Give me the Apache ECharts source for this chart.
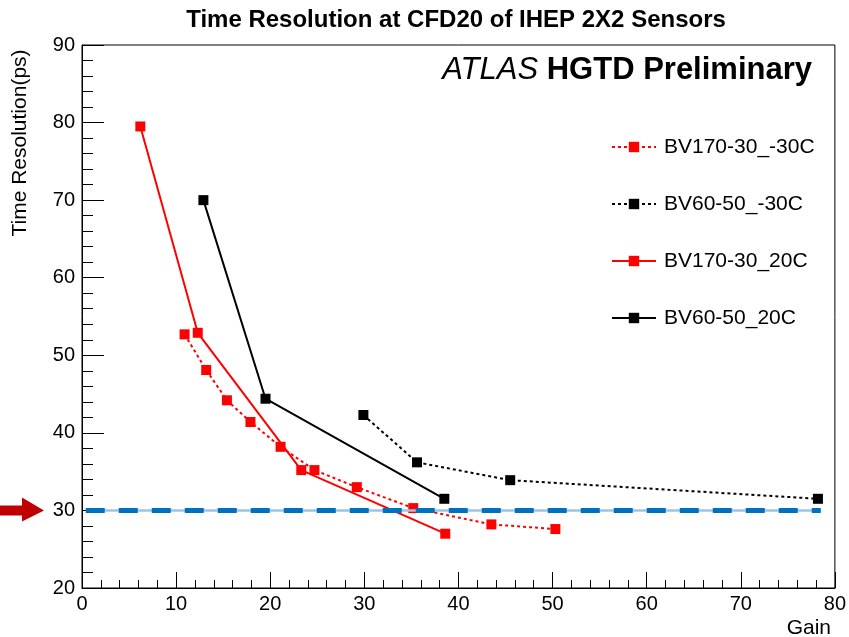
<!DOCTYPE html>
<html>
<head>
<meta charset="utf-8">
<script src="https://cdn.jsdelivr.net/npm/echarts@6/dist/echarts.min.js"></script>
<style>
  html, body { margin: 0; padding: 0; background: #fff; }
  #chart { width: 849px; height: 637px; }
</style>
</head>
<body>
<div id="chart"></div>
<script>
const FONT = '"Liberation Sans", Arial, Helvetica, sans-serif';

// series names
const seriesNames = ['BV170-30_-30C', 'BV60-50_-30C', 'BV170-30_20C', 'BV60-50_20C'];

// BV170-30 at -30C
const gainBV170Cold = [10.9, 13.2, 15.4, 17.9, 21.1, 24.7, 29.2, 35.2, 43.5, 50.3];
const resBV170Cold = [52.7, 48.1, 44.2, 41.4, 38.2, 35.2, 33.0, 30.3, 28.2, 27.6];

// BV60-50 at -30C
const gainBV60Cold = [29.9, 35.6, 45.5, 78.2];
const resBV60Cold = [42.3, 36.2, 33.9, 31.5];

// BV170-30 at 20C
const gainBV170Warm = [6.2, 12.3, 23.3, 38.6];
const resBV170Warm = [79.5, 52.9, 35.2, 27.0];

// BV60-50 at 20C
const gainBV60Warm = [12.9, 19.5, 38.5];
const resBV60Warm = [70.0, 44.4, 31.5];

// 30 ps reference line
const refLevel = 30;
const refGainRange = [0.4, 78.5];

const zip = (xs, ys) => xs.map((x, i) => [x, ys[i]]);

const chart = echarts.init(document.getElementById('chart'));

const dataSeries = (name, xs, ys, color, dotted) => ({
  name,
  type: 'line',
  data: zip(xs, ys),
  symbol: 'rect',
  symbolSize: 10,
  color,
  itemStyle: { color },
  lineStyle: { color, width: 2, type: dotted ? [3, 3] : 'solid' },
  z: 3
});

chart.setOption({
  animation: false,
  backgroundColor: '#fff',
  textStyle: { fontFamily: FONT, color: '#000' },
  grid: {
    left: 82,
    right: 11,
    top: 45,
    bottom: 49,
    show: true,
    borderColor: '#000',
    borderWidth: 1
  },
  legend: {
    data: seriesNames,
    orient: 'vertical',
    left: 606,
    top: 131,
    itemWidth: 44,
    itemHeight: 13,
    itemGap: 35,
    textStyle: { fontFamily: FONT, fontSize: 21, lineHeight: 22, color: '#000', padding: [0, 0, 0, 3] }
  },
  xAxis: {
    type: 'value',
    min: 0,
    max: 80,
    interval: 10,
    splitLine: { show: false },
    axisLine: { lineStyle: { color: '#000', width: 1 } },
    axisTick: { inside: true, length: 16, lineStyle: { color: '#000' } },
    minorTick: { show: true, splitNumber: 5, length: 8, lineStyle: { color: '#000' } },
    axisLabel: { fontFamily: FONT, fontSize: 20, color: '#000', margin: 6 }
  },
  yAxis: {
    type: 'value',
    min: 20,
    max: 90,
    interval: 10,
    splitLine: { show: false },
    axisLine: { show: true, lineStyle: { color: '#000', width: 1 } },
    axisTick: { show: true, inside: true, length: 22, lineStyle: { color: '#000' } },
    minorTick: { show: true, splitNumber: 5, length: 11, lineStyle: { color: '#000' } },
    axisLabel: { fontFamily: FONT, fontSize: 20, color: '#000', margin: 7 }
  },
  series: [
    {
      name: 'ref-thin',
      type: 'line',
      data: refGainRange.map(g => [g, refLevel]),
      symbol: 'none',
      lineStyle: { color: '#9dc3e6', width: 2.5 },
      z: 4,
      silent: true
    },
    {
      name: 'ref-dash',
      type: 'line',
      data: refGainRange.map(g => [g, refLevel]),
      symbol: 'none',
      lineStyle: { color: '#0070c0', width: 5, type: [19, 14] },
      z: 4,
      silent: true
    },
    dataSeries(seriesNames[0], gainBV170Cold, resBV170Cold, '#ff0000', true),
    dataSeries(seriesNames[1], gainBV60Cold, resBV60Cold, '#000000', true),
    dataSeries(seriesNames[2], gainBV170Warm, resBV170Warm, '#ff0000', false),
    dataSeries(seriesNames[3], gainBV60Warm, resBV60Warm, '#000000', false)
  ]
});

// annotations: title, ATLAS label, axis names, arrow at the 30 ps line
const yRef = chart.convertToPixel({ yAxisIndex: 0 }, refLevel);
chart.setOption({
  graphic: [
    {
      type: 'text',
      style: {
        text: 'Time Resolution at CFD20 of IHEP 2X2 Sensors',
        x: 456, y: 20, align: 'center', verticalAlign: 'middle',
        font: 'bold 24px ' + FONT, fill: '#000'
      }
    },
    {
      type: 'text',
      style: {
        text: '{a|ATLAS }{b|HGTD Preliminary}',
        x: 812, y: 70, align: 'right', verticalAlign: 'middle',
        rich: {
          a: { fontFamily: FONT, fontSize: 31, fontStyle: 'italic', fill: '#000' },
          b: { fontFamily: FONT, fontSize: 31, fontWeight: 'bold', fill: '#000' }
        }
      }
    },
    {
      type: 'text',
      rotation: Math.PI / 2,
      x: 20,
      y: 143,
      style: {
        text: 'Time Resolution(ps)',
        x: 0, y: 0, align: 'center', verticalAlign: 'middle',
        font: '21px ' + FONT, fill: '#000'
      }
    },
    {
      type: 'text',
      style: {
        text: 'Gain',
        x: 831, y: 628, align: 'right', verticalAlign: 'middle',
        font: '21px ' + FONT, fill: '#000'
      }
    },
    {
      type: 'polygon',
      shape: {
        points: [
          [0, yRef - 5], [22, yRef - 5], [22, yRef - 13], [44, yRef],
          [22, yRef + 11], [22, yRef + 5], [0, yRef + 5]
        ]
      },
      style: { fill: '#c00000' }
    }
  ]
});
</script>
</body>
</html>
